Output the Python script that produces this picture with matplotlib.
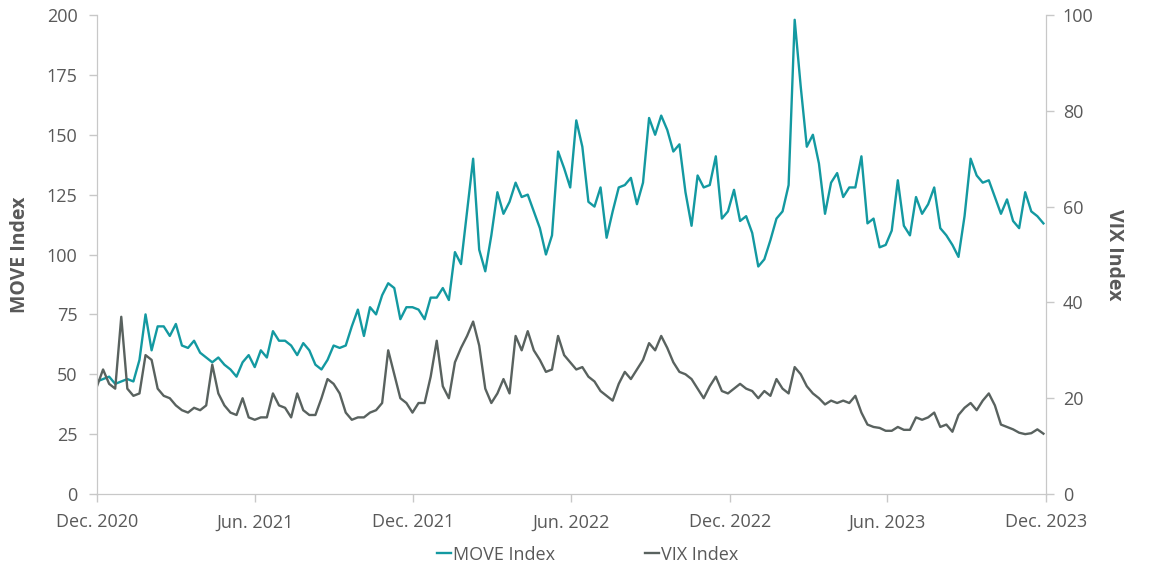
import matplotlib
matplotlib.use("Agg")
import matplotlib.pyplot as plt
import matplotlib.dates as mdates
import pandas as pd

# weekly readings, Dec 2020 - Nov 2023
move = [47, 48, 49, 46, 47, 48, 47, 56, 75, 60, 70, 70, 66, 71, 62, 61, 64, 59, 57, 55,
        57, 54, 52, 49, 55, 58, 53, 60,
        57, 68, 64, 64, 62, 58, 63, 60, 54, 52, 56, 62, 61, 62, 70, 77, 66, 78, 75, 83,
        88, 86, 73, 78, 78, 77,
        73, 82, 82, 86, 81, 101, 96, 118, 140, 102, 93, 108, 126, 117, 122, 130, 124, 125,
        118, 111, 100, 108, 143, 136, 128, 156,
        145, 122, 120, 128, 107, 118, 128, 129, 132, 121, 130, 157, 150, 158, 152, 143, 146,
        126, 112, 133, 128, 129, 141, 115, 118, 127,
        114, 116, 109, 95, 98, 106, 115, 118, 129, 198, 170, 145, 150, 138, 117, 130, 134,
        124, 128, 128, 141, 113, 115, 103, 104, 110,
        131, 112, 108, 124, 117, 121, 128, 111, 108, 104, 99, 116, 140, 133, 130, 131, 124,
        117, 123, 114, 111, 126, 118, 116, 113]
vix = [22.5, 26, 23, 22, 37, 22, 20.5, 21, 29, 28, 22, 20.5, 20, 18.5, 17.5, 17, 18, 17.5,
       18.5, 27, 21, 18.5, 17, 16.5, 20, 16, 15.5, 16,
       16, 21, 18.5, 18, 16, 21, 17.5, 16.5, 16.5, 20, 24, 23, 21, 17, 15.5, 16, 16, 17,
       17.5, 19, 30, 25, 20, 19, 17, 19,
       19, 24.5, 32, 22.5, 20, 27.5, 30.5, 33, 36, 31, 22, 19, 21, 24, 21, 33, 30, 34, 30,
       28, 25.5, 26, 33, 29, 27.5, 26,
       26.5, 24.5, 23.5, 21.5, 20.5, 19.5, 23, 25.5, 24, 26, 28, 31.5, 30, 33, 30.5, 27.5,
       25.5, 25, 24, 22, 20, 22.5, 24.5, 21.5, 21, 22,
       23, 22, 21.5, 20, 21.5, 20.5, 24, 22, 21, 26.5, 25, 22.5, 21, 20, 18.7, 19.5, 19,
       19.5, 19, 20.5, 17, 14.5, 14, 13.8, 13.2, 13.2,
       14, 13.4, 13.4, 16, 15.5, 16, 17, 14, 14.5, 13, 16.5, 18, 19, 17.5, 19.5, 21, 18.5,
       14.5, 14, 13.5, 12.8, 12.5, 12.7, 13.5, 12.6]
dates = pd.date_range("2020-12-01", periods=len(move), freq="7D")
tick_dates = pd.to_datetime(["2020-12-01", "2021-06-01", "2021-12-01", "2022-06-01",
                             "2022-12-01", "2023-06-01", "2023-12-01"])
tick_labels = ["Dec. 2020", "Jun. 2021", "Dec. 2021", "Jun. 2022",
               "Dec. 2022", "Jun. 2023", "Dec. 2023"]

teal = "#1399a1"
grey = "#59625f"
txt = "#595959"
spine = "#c8c8c8"
plt.rcParams["font.family"] = ["Open Sans", "DejaVu Sans"]

fig = plt.figure(figsize=(11.52, 5.77), dpi=100)
ax = fig.add_axes([0.0842, 0.1438, 0.8238, 0.8302])
ax2 = ax.twinx()

l1, = ax.plot(dates, move, color=teal, lw=1.7, label="MOVE Index")
l2, = ax2.plot(dates, vix, color=grey, lw=1.7, label="VIX Index")

ax.set_xlim(tick_dates[0], tick_dates[-1])
ax.set_ylim(0, 200)
ax2.set_ylim(0, 100)
ax.set_yticks(range(0, 201, 25))
ax2.set_yticks(range(0, 101, 20))
ax.set_xticks(tick_dates)
ax.set_xticklabels(tick_labels)

for a in (ax, ax2):
    for s in a.spines.values():
        s.set_color(spine)
    a.spines["top"].set_visible(False)
    a.tick_params(colors=spine, labelcolor=txt, labelsize=13, length=6, width=1)
ax.tick_params(axis="x", pad=8)
ax.tick_params(axis="y", pad=8)
ax2.tick_params(axis="y", pad=6)

ax.set_ylabel("MOVE Index", fontsize=14, fontweight="bold", color=txt, labelpad=12)
ax2.set_ylabel("VIX Index", fontsize=14, fontweight="bold", color=txt,
               rotation=270, labelpad=22)

fig.legend([l1, l2], ["MOVE Index", "VIX Index"], loc="lower center",
           bbox_to_anchor=(0.51, -0.005), ncol=2, frameon=False, fontsize=13,
           handlelength=0.8, handletextpad=0.1, columnspacing=5, labelcolor=txt)

fig.savefig("out.png", dpi=100)
